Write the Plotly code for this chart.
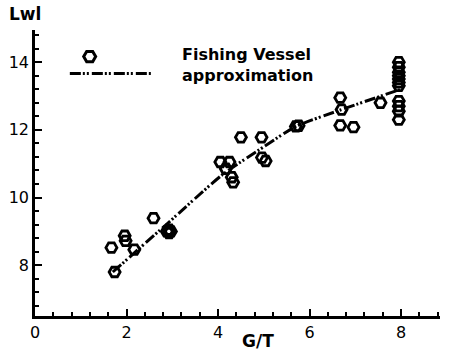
import plotly.graph_objects as go

# Observed data (G/T vs Lwl)
gt = [1.74, 1.67, 1.96, 1.98, 2.17, 2.59, 2.88, 2.93, 2.97, 2.93,
      4.05, 4.25, 4.17, 4.33, 4.30, 4.50, 4.95, 4.96, 5.04, 5.70, 5.76,
      6.67, 6.70, 6.67, 6.96, 7.55,
      7.95, 7.95, 7.95, 7.95, 7.95, 7.95, 7.95, 7.95, 7.95, 7.95, 7.95]
lwl = [7.80, 8.52, 8.87, 8.72, 8.46, 9.39, 9.00, 9.05, 9.00, 8.95,
       11.05, 11.05, 10.85, 10.45, 10.60, 11.78, 11.78, 11.18, 11.08, 12.10, 12.12,
       12.95, 12.60, 12.13, 12.08, 12.80,
       14.00, 13.85, 13.70, 13.60, 13.50, 13.40, 13.30, 12.85, 12.70, 12.55, 12.30]

# Approximation curve
approx_x = [1.70, 2.90, 4.10, 5.00, 5.70, 6.70, 8.00]
approx_y = [7.80, 9.24, 10.68, 11.50, 12.10, 12.60, 13.20]

x_ticks = [0, 2, 4, 6, 8]
y_ticks = [8, 10, 12, 14]
legend_labels = ["Fishing Vessel", "approximation"]

DASH = "11px,2px,2px,2px,2px,3px"
FONT = "DejaVu Sans"

fig = go.Figure()
fig.add_trace(go.Scatter(x=approx_x, y=approx_y, mode="lines",
                         line=dict(color="black", width=3, dash=DASH, shape="spline", smoothing=0.6),
                         name=legend_labels[1], showlegend=False))
fig.add_trace(go.Scatter(x=gt, y=lwl, mode="markers",
                         marker=dict(symbol="hexagon2-open", size=11, color="black",
                                     line=dict(width=2.8, color="black")),
                         name=legend_labels[0], showlegend=False))

# Hand-made legend samples on an overlay axis in [0,1]
fig.add_trace(go.Scatter(x=[0.135], y=[0.907], mode="markers", xaxis="x2", yaxis="y2",
                         marker=dict(symbol="hexagon2-open", size=12, color="black",
                                     line=dict(width=3, color="black")),
                         showlegend=False, hoverinfo="skip", cliponaxis=False))
fig.add_trace(go.Scatter(x=[0.086, 0.287], y=[0.848, 0.848], mode="lines", xaxis="x2", yaxis="y2",
                         line=dict(color="black", width=3, dash=DASH),
                         showlegend=False, hoverinfo="skip", cliponaxis=False))

axis_common = dict(
    showline=True, linecolor="black", linewidth=2.5,
    showgrid=False, zeroline=False,
    ticks="inside", ticklen=7, tickwidth=2, tickcolor="black",
    tickfont=dict(family=FONT, size=16, color="black"),
)
fig.update_layout(
    width=449, height=351, autosize=False,
    margin=dict(l=33, r=9, t=30, b=31),
    paper_bgcolor="white", plot_bgcolor="white",
    xaxis=dict(range=[0, 8.85], tickvals=x_ticks,
               minor=dict(ticks="inside", ticklen=4, tickwidth=1.5, dtick=0.4, tick0=0, tickcolor="black"),
               **axis_common),
    yaxis=dict(range=[6.5, 14.95], tickvals=y_ticks,
               minor=dict(ticks="inside", ticklen=4, tickwidth=1.5, dtick=0.4, tick0=0, tickcolor="black"),
               **axis_common),
    xaxis2=dict(overlaying="x", range=[0, 1], visible=False),
    yaxis2=dict(overlaying="y", range=[0, 1], visible=False),
    showlegend=False,
    annotations=[
        dict(text="<b>" + "<br>".join(legend_labels) + "</b>", xref="paper", yref="paper",
             x=0.358, y=0.876, xanchor="left", yanchor="middle", align="left", showarrow=False,
             font=dict(family=FONT, size=16, color="black")),
        dict(text="<b>Lwl</b>", xref="paper", yref="paper", x=-0.069, y=1.055,
             xanchor="left", yanchor="middle", showarrow=False,
             font=dict(family=FONT, size=17, color="black")),
        dict(text="<b>G/T</b>", xref="paper", yref="paper", x=0.55, y=-0.088,
             xanchor="center", yanchor="middle", showarrow=False,
             font=dict(family=FONT, size=17, color="black")),
    ],
)

fig.write_html("out.html")
